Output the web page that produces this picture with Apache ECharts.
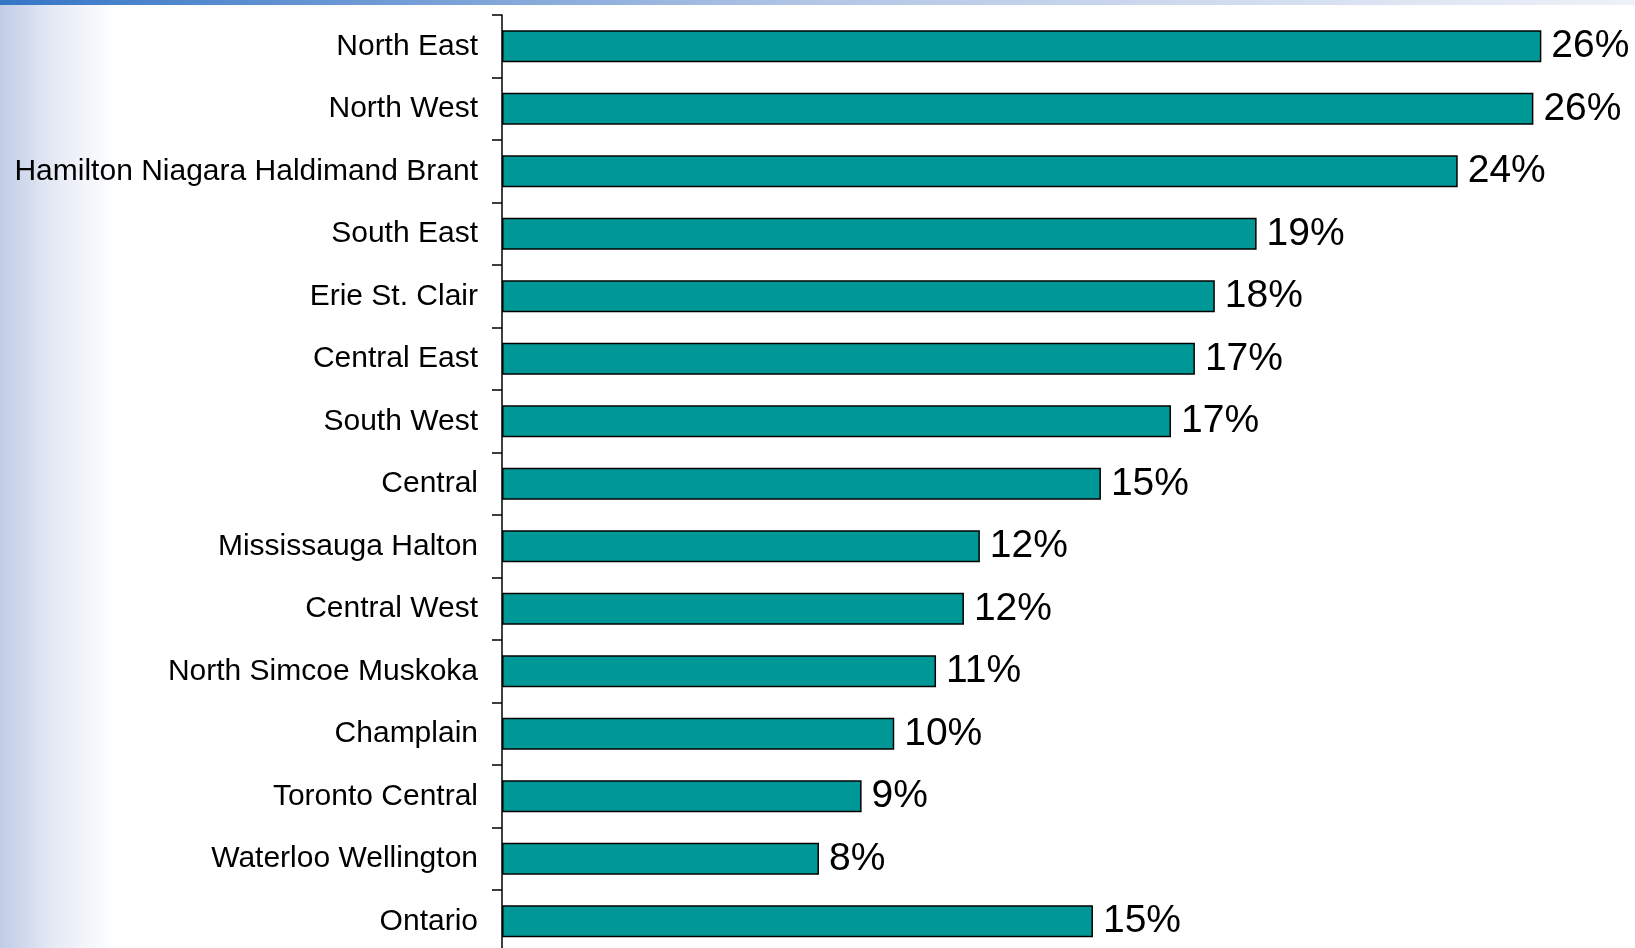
<!DOCTYPE html>
<html>
<head>
<meta charset="utf-8">
<script src="https://cdn.jsdelivr.net/npm/echarts@6/dist/echarts.min.js"></script>
<style>
html,body{margin:0;padding:0;background:#fff;overflow:hidden;}
#chart{width:1635px;height:970px;}
</style>
</head>
<body>
<div id="chart"></div>
<script>
var categories = ["North East","North West","Hamilton Niagara Haldimand Brant","South East","Erie St. Clair","Central East","South West","Central","Mississauga Halton","Central West","North Simcoe Muskoka","Champlain","Toronto Central","Waterloo Wellington","Ontario"];
var values = [26.1, 25.9, 24.0, 18.95, 17.9, 17.4, 16.8, 15.04, 12.0, 11.6, 10.9, 9.85, 9.03, 7.96, 14.84];
var valueLabels = ["26%","26%","24%","19%","18%","17%","17%","15%","12%","12%","11%","10%","9%","8%","15%"];

var chart = echarts.init(document.getElementById('chart'), null, {renderer:'canvas'});
var font = '"Liberation Sans", Arial, Helvetica, sans-serif';
chart.setOption({
  animation: false,
  backgroundColor: '#ffffff',
  graphic: [
    {type:'rect', z:-10, silent:true, shape:{x:0,y:0,width:115,height:970},
     style:{fill:new echarts.graphic.LinearGradient(0,0,1,0,[{offset:0,color:'#bfcde5'},{offset:0.45,color:'#e4e9f5'},{offset:1,color:'#ffffff'}])}},
    {type:'rect', z:-9, silent:true, shape:{x:0,y:0,width:1635,height:5},
     style:{fill:new echarts.graphic.LinearGradient(0,0,1,0,[{offset:0,color:'#3576c6'},{offset:0.5,color:'#b3c6e6'},{offset:1,color:'#eef1f8'}])}}
  ],
  grid: {left:502, top:15, width:1115, height:937.5, containLabel:false},
  xAxis: {type:'value', min:0, max:28, show:false, splitLine:{show:false}},
  yAxis: {
    type:'category', data:categories, inverse:true,
    axisLine:{show:true, lineStyle:{color:'#000', width:1.5}},
    axisTick:{show:true, length:10, inside:false, lineStyle:{color:'#000', width:1.5}},
    axisLabel:{color:'#000', fontSize:30, fontFamily:font, margin:24, padding:[4,0,0,0]}
  },
  series: [{
    type:'bar', data:values, barWidth:32,
    itemStyle:{color:'#009896', borderColor:'#000', borderWidth:1.5},
    label:{show:true, position:'right', distance:10, color:'#000', fontSize:39, fontFamily:font, padding:[3,0,0,0],
      formatter:function(p){return valueLabels[p.dataIndex];}}
  }]
});
</script>
</body>
</html>
